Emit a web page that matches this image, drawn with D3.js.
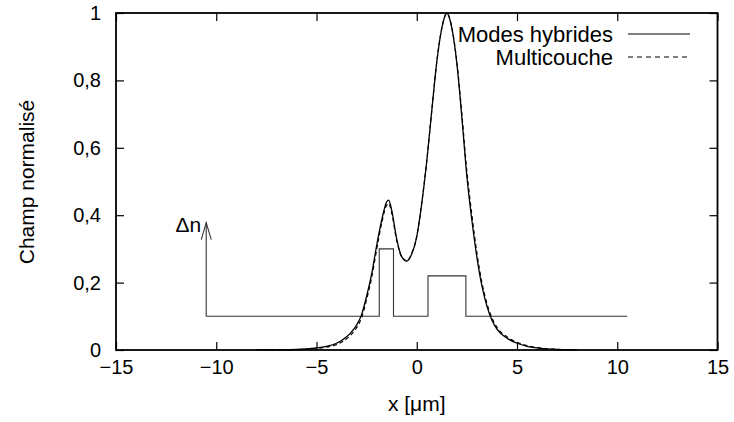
<!DOCTYPE html>
<html><head><meta charset="utf-8">
<script src="https://cdn.jsdelivr.net/npm/d3@7"></script>
<style>
html,body{margin:0;padding:0;background:#fff;}
text{font-family:"Liberation Sans",Arial,Helvetica,sans-serif;fill:#000;}
</style></head>
<body><svg id="c" width="734" height="422"></svg>
<script>
(function(){
// ---- data ----
const xField = [-8,-7,-6,-5.5,-5,-4.5,-4,-3.75,-3.5,-3.25,-3,-2.75,-2.5,-2.25,-2,-1.75,-1.5,-1.4,-1.25,-1,-0.75,-0.5,-0.25,0,0.25,0.5,0.75,1,1.25,1.5,1.75,2,2.25,2.5,2.75,3,3.25,3.5,3.75,4,4.5,5,5.5,6,7,8];
const modesHybrides = [0.0002,0.0006,0.0015,0.003,0.006,0.011,0.02,0.028,0.039,0.054,0.074,0.105,0.16,0.225,0.31,0.385,0.44,0.445,0.415,0.33,0.277,0.264,0.285,0.336,0.435,0.56,0.71,0.855,0.955,1.0,0.955,0.85,0.69,0.515,0.385,0.275,0.19,0.13,0.088,0.062,0.035,0.02,0.011,0.006,0.0015,0.0003];
const multicouche = [0.0001,0.0004,0.0011,0.0023,0.0045,0.0085,0.016,0.023,0.033,0.047,0.066,0.096,0.15,0.215,0.298,0.376,0.43,0.435,0.407,0.325,0.276,0.265,0.287,0.338,0.437,0.562,0.712,0.856,0.955,0.999,0.957,0.855,0.7,0.53,0.4,0.288,0.2,0.138,0.095,0.067,0.039,0.023,0.013,0.007,0.002,0.0004];
const xIndex = [-10.5,-1.87,-1.87,-1.16,-1.16,0.56,0.56,2.45,2.45,10.5];
const dnIndex = [0.1,0.1,0.3,0.3,0.1,0.1,0.22,0.22,0.1,0.1];
const arrowX = -10.5, arrowFrom = 0.1, arrowTo = 0.378;
const xTicks = [-15,-10,-5,0,5,10,15];
const yTicks = [0,0.2,0.4,0.6,0.8,1];
const yTickLabels = ["0","0,2","0,4","0,6","0,8","1"];
const legendLabels = ["Modes hybrides","Multicouche"];

// ---- layout ----
const L=116, R=717.5, T=13, B=350;
const svg = d3.select("#c");
const x = d3.scaleLinear().domain([-15,15]).range([L,R]);
const y = d3.scaleLinear().domain([0,1]).range([B,T]);
const FS = 20;

const tl = 8;
const axB = d3.axisBottom(x).tickValues(xTicks).tickSize(-tl).tickPadding(10)
  .tickFormat(d => d<0 ? "\u2212"+Math.abs(d) : String(d));
const gB = svg.append("g").attr("transform",`translate(0,${B})`).call(axB);
const axT = d3.axisTop(x).tickValues(xTicks).tickSize(-tl).tickFormat("");
const gT = svg.append("g").attr("transform",`translate(0,${T})`).call(axT);
const axL = d3.axisLeft(y).tickValues(yTicks).tickSize(-tl).tickPadding(15)
  .tickFormat((d,i)=>yTickLabels[i]);
const gL = svg.append("g").attr("transform",`translate(${L},0)`).call(axL);
const axR = d3.axisRight(y).tickValues(yTicks).tickSize(-tl).tickFormat("");
const gR = svg.append("g").attr("transform",`translate(${R},0)`).call(axR);
[gB,gT,gL,gR].forEach(g=>{
  g.select(".domain").remove();
  g.selectAll(".tick line").attr("stroke","#000").attr("stroke-width",1.2);
  g.selectAll("text").style("font-size",FS+"px").attr("fill","#000")
   .style("font-family","'Liberation Sans',Arial,sans-serif");
});
svg.append("rect").attr("x",L).attr("y",T).attr("width",R-L).attr("height",B-T)
  .attr("fill","none").attr("stroke","#000").attr("stroke-width",1.8);

// index profile
const idx = xIndex.map((v,i)=>[v,dnIndex[i]]);
svg.append("path").datum(idx)
  .attr("d", d3.line().x(d=>x(d[0])).y(d=>y(d[1])))
  .attr("fill","none").attr("stroke","#333").attr("stroke-width",1.1);
svg.append("line").attr("x1",x(arrowX)).attr("x2",x(arrowX))
  .attr("y1",y(arrowFrom)).attr("y2",y(arrowTo))
  .attr("stroke","#333").attr("stroke-width",1.1);
svg.append("path")
  .attr("d",`M${x(arrowX)-5},${y(arrowTo)+17} L${x(arrowX)},${y(arrowTo)} L${x(arrowX)+5},${y(arrowTo)+17}`)
  .attr("fill","none").attr("stroke","#333").attr("stroke-width",1.1);
svg.append("text").attr("x",x(arrowX)-5).attr("y",y(arrowTo)+9)
  .attr("text-anchor","end").style("font-size","21px").text("\u0394n");

// field curves
const line = d3.line().x(d=>x(d[0])).y(d=>y(d[1])).curve(d3.curveMonotoneX);
const s1 = xField.map((v,i)=>[v,modesHybrides[i]]);
const s2 = xField.map((v,i)=>[v,multicouche[i]]);
svg.append("path").datum(s2).attr("d",line).attr("fill","none")
  .attr("stroke","#000").attr("stroke-width",1.2).attr("stroke-dasharray","4,3");
svg.append("path").datum(s1).attr("d",line).attr("fill","none")
  .attr("stroke","#000").attr("stroke-width",1.3);

// legend
const legY = [34,57];
legendLabels.forEach((lab,i)=>{
  svg.append("text").attr("x",613).attr("y",legY[i]).attr("dy","0.35em")
    .attr("text-anchor","end").style("font-size","22px").text(lab);
  svg.append("line").attr("x1",628).attr("x2",690).attr("y1",legY[i]).attr("y2",legY[i])
    .attr("stroke","#000").attr("stroke-width",1.2)
    .attr("stroke-dasharray", i===1 ? "5,4" : null);
});

svg.append("text").attr("x",(L+R)/2).attr("y",404).attr("dy","0.35em")
  .attr("text-anchor","middle").style("font-size","21px").text("x [\u03bcm]");
svg.append("text").attr("transform",`translate(27,182) rotate(-90)`)
  .attr("dy","0.35em").attr("text-anchor","middle").style("font-size","21px")
  .text("Champ normalisé");
})();
</script></body></html>
